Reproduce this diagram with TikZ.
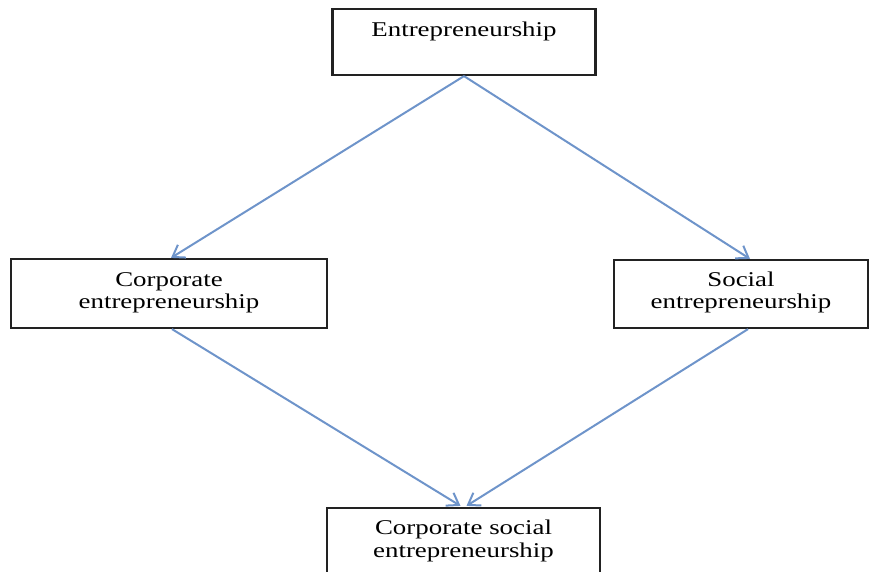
\documentclass[tikz,border=0pt]{standalone}
\usepackage{fontspec}
\setmainfont{Liberation Serif}[FakeStretch=1.28]
\usetikzlibrary{arrows.meta,calc}
\definecolor{flowblue}{RGB}{110,148,202}
\definecolor{boxline}{RGB}{34,34,34}
\begin{document}
\begin{tikzpicture}[x=1pt,y={(0pt,-1pt)},
  box/.style={draw=boxline,line width=2.2pt,fill=white,minimum width=#1,inner sep=0pt},
  label/.style={font=\fontsize{21}{22.5}\selectfont,anchor=base,inner sep=0pt,align=center},
  flow/.style={draw=flowblue,line width=2pt,-{Straight Barb[length=11pt,width=15pt,line width=2pt]}}]
\useasboundingbox (0,0) rectangle (877,572);
\clip (0,0) rectangle (877,572);
% boxes
\node[box=263pt,minimum height=66pt] (ent) at (464,42) {};
\node[box=316pt,minimum height=69pt] (corp) at (169,293.5) {};
\node[box=254pt,minimum height=68pt] (soc) at (741,294) {};
\node[box=273pt,minimum height=90pt] (csr) at (463.5,553) {};
% texts (the base anchor sits on the last line)
\node[label] (tEnt) at (464,37) {Entrepreneurship};
\node[label] (tCorp) at (169,308.5) {Corporate\\entrepreneurship};
\node[label] (tSoc) at (741,308.5) {Social\\entrepreneurship};
\node[label] (tCsr) at (463.5,557) {Corporate social\\entrepreneurship};
% connectors
\draw[flow] (ent.south) -- ($(corp.north)+(2,0)$);
\draw[flow] (ent.south) -- ($(soc.north)+(9,0)$);
\draw[flow] ($(corp.south)+(3,0)$) -- ($(csr.north)+(-3,-1)$);
\draw[flow] ($(soc.south)+(7,0)$) -- ($(csr.north)+(3,-1)$);
\end{tikzpicture}
\end{document}
